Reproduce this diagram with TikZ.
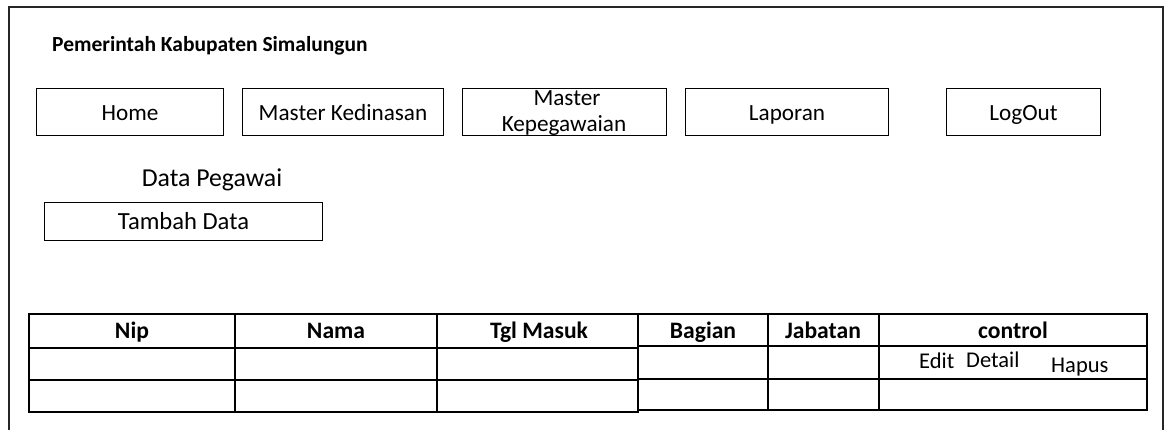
\documentclass[tikz,border=0pt]{standalone}
\usepackage{fontspec}
\setmainfont{Carlito}
\usetikzlibrary{calc}
\begin{document}
\begin{tikzpicture}[x=1pt,y=-1pt,
  navbox/.style={draw=black, line width=1pt, rectangle, inner sep=0pt, anchor=north west},
  txt/.style={font=\fontsize{23.2}{26}\selectfont, inner sep=0pt, anchor=base},
  bigtxt/.style={font=\fontsize{25.8}{28}\selectfont, inner sep=0pt, anchor=base},
  midtxt/.style={font=\fontsize{24.6}{27}\selectfont, inner sep=0pt, anchor=base},
  ctltxt/.style={font=\fontsize{22.5}{25}\selectfont, inner sep=0pt, anchor=base west},
  titletxt/.style={font=\fontsize{21.5}{24}\selectfont\bfseries, inner sep=0pt, anchor=base west},
  head/.style={font=\fontsize{23.6}{26}\selectfont\bfseries, inner sep=0pt, anchor=base},
  grid/.style={draw=black, line width=1.4pt},
  frame/.style={draw=black!85, line width=1.6pt}]
\useasboundingbox (0,0) rectangle (1168,430);
% outer frame (open at the bottom)
\draw[frame] (9,432) -- (9,7) -- (1163,7) -- (1163,432);
% title
\node[titletxt] (title) at (52,52) {Pemerintah Kabupaten Simalungun};
% navigation
\node[navbox, minimum width=187, minimum height=47] (home) at (36,88) {};
\node[txt] at ($(home.center |- 0,121)$) {Home};
\node[navbox, minimum width=201, minimum height=47] (mked) at (242,88) {};
\node[txt] at ($(mked.center |- 0,121)$) {Master Kedinasan};
\node[navbox, minimum width=204, minimum height=47] (mkep) at (462,88) {};
\node[txt] at (567,106) {Master};
\node[txt] at (564,132) {Kepegawaian};
\node[navbox, minimum width=203, minimum height=47] (lap) at (685,88) {};
\node[txt] at ($(lap.center |- 0,121)$) {Laporan};
\node[navbox, minimum width=154, minimum height=47] (logout) at (946,88) {};
\node[txt] at ($(logout.center |- 0,121)$) {LogOut};
% data pegawai
\node[bigtxt] (dp) at (212,187) {Data Pegawai};
\node[navbox, minimum width=278, minimum height=38] (tambah) at (44,202) {};
\node[midtxt] at ($(tambah.center |- 0,230)$) {Tambah Data};
% table left part
\draw[grid] (29,314) rectangle (638,412);
\draw[grid] (29,348) -- (638,348);
\draw[grid] (29,380) -- (638,380);
\draw[grid] (235,314) -- (235,412);
\draw[grid] (437,314) -- (437,412);
% table right part
\draw[grid] (638,314) rectangle (1147,410);
\draw[grid] (638,346) -- (1147,346);
\draw[grid] (638,379) -- (1147,379);
\draw[grid] (768,314) -- (768,410);
\draw[grid] (879,314) -- (879,410);
% headers
\node[head] (hnip) at (132,339) {Nip};
\node[head] (hnama) at (336,339) {Nama};
\node[head] (htgl) at (539,339) {Tgl Masuk};
\node[head] (hbag) at (703,339) {Bagian};
\node[head] (hjab) at (823,339) {Jabatan};
\node[head] (hctl) at (1013,339) {control};
% controls
\node[ctltxt] (edit) at (919,369) {Edit};
\node[ctltxt] (detail) at (966,368) {Detail};
\node[ctltxt] (hapus) at (1051,373) {Hapus};
\end{tikzpicture}
\end{document}
